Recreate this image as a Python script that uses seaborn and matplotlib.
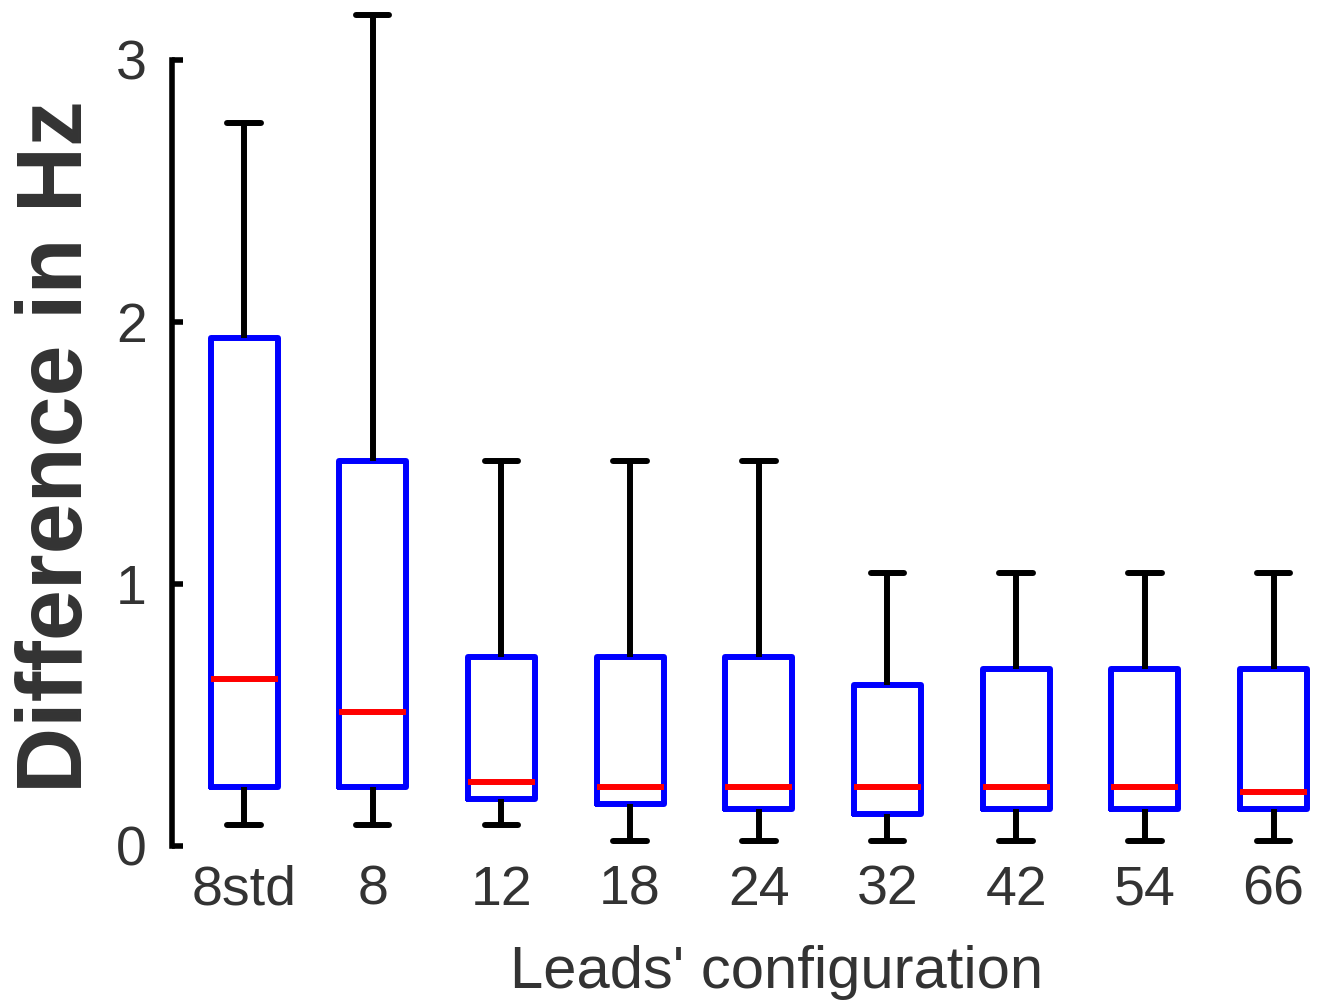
import numpy as np
import pandas as pd
import matplotlib
matplotlib.use("Agg")
import matplotlib.pyplot as plt
import seaborn as sns

sns.set_style("white")
plt.rcParams["font.family"] = ["Liberation Sans", "DejaVu Sans"]

# five-number summaries (min, q1, median, q3, max)
configs = ["8std", "8", "12", "18", "24", "32", "42", "54", "66"]
lo_whisk = [0.08, 0.08, 0.08, 0.02, 0.02, 0.02, 0.02, 0.02, 0.02]
q1 = [0.225, 0.225, 0.18, 0.16, 0.14, 0.12, 0.14, 0.14, 0.14]
median = [0.635, 0.51, 0.245, 0.225, 0.225, 0.225, 0.225, 0.225, 0.205]
q3 = [1.94, 1.47, 0.72, 0.72, 0.72, 0.615, 0.675, 0.675, 0.675]
hi_whisk = [2.76, 3.17, 1.47, 1.47, 1.47, 1.04, 1.04, 1.04, 1.04]

rows = []
for i, c in enumerate(configs):
    for v in (lo_whisk[i], q1[i], median[i], q3[i], hi_whisk[i]):
        rows.append((c, v))
df = pd.DataFrame(rows, columns=["config", "diff"])

fig = plt.figure(figsize=(13.25, 10.02), dpi=100)
ax = fig.add_axes([172 / 1325, 0.1507, 1 - 172 / 1325, 0.8417])

lw = 4.3
sns.boxplot(data=df, x="config", y="diff", order=configs, whis=(0, 100),
            width=0.52, fill=False, ax=ax,
            boxprops=dict(color="#0000ff", linewidth=lw),
            medianprops=dict(color="#ff0000", linewidth=lw),
            whiskerprops=dict(color="black", linewidth=lw),
            capprops=dict(color="black", linewidth=lw))

ax.set_xlim(-0.56, 8.4)
ax.set_ylim(-0.02, 3.2)
ax.set_yticks([0, 1, 2, 3])
for s in ("top", "right", "bottom"):
    ax.spines[s].set_visible(False)
ax.spines["left"].set_bounds(0, 3)
ax.spines["left"].set_linewidth(4)
ax.spines["left"].set_color("black")
ax.tick_params(axis="y", direction="in", length=8, width=4, colors="black",
               labelcolor="#333333", labelsize=40, pad=18, left=True)
ax.tick_params(axis="x", length=0, labelsize=40, labelcolor="#333333", pad=10)

ax.set_xlabel("Leads' configuration", fontsize=43, color="#333333", labelpad=20)
ax.xaxis.label.set_x(0.524)
ax.set_ylabel("Difference in Hz", fontsize=66, fontweight="bold",
              color="#333333", labelpad=11)
ax.yaxis.label.set_y(0.479)

fig.savefig("out.png", dpi=100)
